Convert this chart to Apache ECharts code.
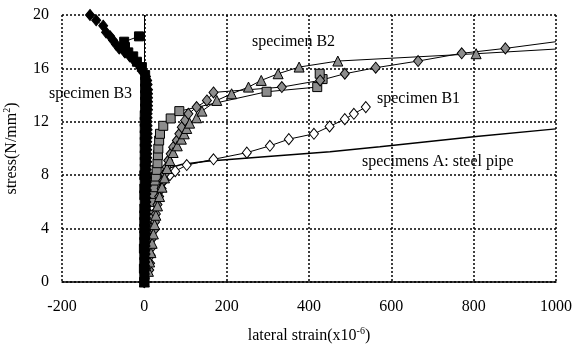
<!DOCTYPE html>
<html>
<head>
<meta charset="utf-8">
<script src="https://cdn.jsdelivr.net/npm/echarts@6/dist/echarts.min.js"></script>
<style>
  html, body { margin: 0; padding: 0; background: #fff; }
  #chart { width: 573px; height: 349px; }
</style>
</head>
<body>
<div id="chart"></div>
<script>
// lateral strain (x10^-6), stress (N/mm2)
const xTicks = [-200, 0, 200, 400, 600, 800, 1000];
const yTicks = [0, 4, 8, 12, 16, 20];

const steelPipeA = [
  [0, 0], [45, 8.4], [90, 8.8], [150, 9.05], [300, 9.4], [451, 9.75],
  [572, 10.13], [806, 10.9], [1000, 11.47]
];

const specimenB1 = [
  [0, 0], [4, 1], [8, 2], [12, 3], [16, 4], [20, 5], [26, 6], [34, 7],
  [48, 7.6], [62, 8.0], [75, 8.3], [103, 8.76], [168, 9.19], [249, 9.69],
  [305, 10.2], [351, 10.7], [412, 11.1], [450, 11.65], [487, 12.2],
  [509, 12.6], [538, 13.1]
];

const graySquares = [
  [0, 0], [2, 1], [4, 2], [6, 3], [9, 4], [12, 5], [16, 6], [20, 6.6],
  [22, 7.1], [25, 7.6], [28, 7.9], [30, 8.4], [32, 8.9], [33, 9.5],
  [34, 10.0], [36, 10.6], [38, 11.1], [46, 11.7], [64, 12.25], [85, 12.8],
  [297, 14.25], [420, 14.6], [433, 15.2], [426, 15.6]
];

const grayDiamonds = [
  [0, 0], [12, 0.9], [14, 1.4], [15.5, 2.0], [18, 2.6], [20, 3.3], [24, 3.9],
  [26, 4.5], [28, 5.1], [32, 5.8], [36, 6.4], [42, 7.0], [46, 7.6], [50, 8.1],
  [54, 8.6], [58, 9.1], [64, 9.6], [70, 10.1], [79, 10.6], [85, 11.1],
  [91, 11.6], [99, 12.1], [107, 12.6], [127, 13.1], [152, 13.6], [168, 14.2],
  [334, 14.6], [427, 15.1], [487, 15.6], [562, 16.05], [665, 16.55],
  [771, 17.13], [877, 17.5], [1000, 18.0]
];

const specimenB2 = [
  [0, 0], [10, 0.8], [13, 1.5], [16, 2.2], [19, 2.9], [22, 3.6], [25, 4.3],
  [28, 5.0], [32, 5.7], [37, 6.4], [43, 7.1], [49, 7.8], [55, 8.5], [62, 9.1],
  [70, 9.7], [80, 10.2], [90, 10.7], [97, 11.1], [103, 11.5], [110, 11.9],
  [127, 12.3], [140, 12.8], [176, 13.6], [212, 14.1], [253, 14.6],
  [284, 15.1], [325, 15.6], [376, 16.1], [470, 16.55], [806, 17.1],
  [1000, 17.45]
];

const blackSquares = [
  [0, 0], [0, 0.5], [-1, 1], [0, 1.5], [0, 2], [-1, 2.5], [0, 3], [0, 3.5],
  [0, 4], [0, 4.5], [0, 5], [0, 5.5], [1, 6], [0, 6.5], [0, 7], [1, 7.5],
  [0, 8], [1, 8.5], [1, 9], [1, 9.5], [1, 10], [1, 10.5], [1, 11], [1, 11.5],
  [1, 12], [1, 12.5], [2, 13], [2, 13.5], [2, 14], [2, 14.5], [2, 15],
  [2, 15.5], [-6, 16.1], [-18, 16.5], [-27, 16.9], [-39, 17.2], [-47, 17.6],
  [-49, 18.0], [-13, 18.4]
];

const specimenB3 = [
  [0, 0], [1, 0.3], [1, 0.6], [2, 0.9], [2, 1.2], [2, 1.5], [2, 1.8], [3, 2.1],
  [3, 2.4], [3, 2.7], [3, 3.0], [3, 3.3], [4, 3.6], [4, 3.9], [4, 4.2],
  [4, 4.5], [4, 4.8], [5, 5.1], [5, 5.4], [5, 5.7], [5, 6.0], [5, 6.3],
  [5, 6.6], [6, 6.9], [6, 7.2], [6, 7.5], [6, 7.8], [6, 8.1], [6, 8.4],
  [6, 8.7], [7, 9.0], [7, 9.3], [7, 9.6], [7, 9.9], [7, 10.2], [7, 10.5],
  [8, 10.8], [8, 11.1], [8, 11.4], [8, 11.7], [8, 12.0], [8, 12.3], [8, 12.6],
  [9, 12.9], [9, 13.2], [9, 13.5], [9, 13.8], [9, 14.1], [9, 14.4], [8, 14.8],
  [7, 15.1], [4, 15.4], [-3, 15.7], [-8, 16.0], [-15, 16.3], [-25, 16.6],
  [-35, 16.9], [-47, 17.2], [-61, 17.5], [-69, 17.8], [-76, 18.1], [-83, 18.4],
  [-93, 18.7], [-100, 19.2], [-117, 19.6], [-132, 20.0]
];

const FONT = '"Liberation Serif", "Times New Roman", serif';
const GRAY = '#8c8c8c';

// last point of a curve drawn as line only
const lineEnd = (pts) => pts.map((p, i) =>
  i === pts.length - 1 ? { value: p, symbol: 'none' } : p);

const markerSeries = (name, data, symbol, size, fill) => ({
  name: name,
  type: 'line',
  data: data,
  symbol: symbol,
  symbolSize: size,
  showAllSymbol: true,
  clip: true,
  lineStyle: { color: '#000', width: 1 },
  itemStyle: { color: fill, borderColor: '#000', borderWidth: 1 },
  emphasis: { disabled: true },
  animation: false,
});

const gridStyle = { color: '#000', width: 1.5, type: [2, 2] };

const chart = echarts.init(document.getElementById('chart'));

const option = {
  animation: false,
  grid: { left: 62, right: 17, top: 15, bottom: 67, containLabel: false, outerBoundsMode: 'none' },
  xAxis: {
    type: 'value',
    min: -200,
    max: 1000,
    interval: 200,
    name: 'lateral strain(x10{sup|-6})',
    nameLocation: 'middle',
    nameGap: 44,
    nameTextStyle: {
      color: '#000', fontFamily: FONT, fontSize: 16,
      rich: { sup: { fontSize: 10, fontFamily: FONT, color: '#000', padding: [0, 0, 10, 0] } },
    },
    axisLine: { show: true, onZero: false, lineStyle: { color: '#000', width: 1.5 } },
    axisTick: { show: false },
    axisLabel: {
      color: '#000', fontFamily: FONT, fontSize: 16, margin: 17,
      formatter: (v) => (xTicks.includes(v) ? String(v) : ''),
    },
    splitLine: { show: true, lineStyle: gridStyle },
  },
  yAxis: {
    type: 'value',
    min: 0,
    max: 20,
    interval: 4,
    name: 'stress(N/mm{sup|2})',
    nameLocation: 'middle',
    nameGap: 40,
    nameRotate: 90,
    nameTextStyle: {
      color: '#000', fontFamily: FONT, fontSize: 16,
      rich: { sup: { fontSize: 10, fontFamily: FONT, color: '#000', padding: [0, 0, 10, 0] } },
    },
    axisLine: { show: false },
    axisTick: { show: false },
    axisLabel: {
      color: '#000', fontFamily: FONT, fontSize: 16, margin: 13,
      formatter: (v) => (yTicks.includes(v) ? String(v) : ''),
    },
    splitLine: { show: true, lineStyle: gridStyle },
  },
  series: [
    {
      name: 'specimens A: steel pipe',
      type: 'line',
      data: steelPipeA,
      symbol: 'none',
      lineStyle: { color: '#000', width: 1.5 },
      emphasis: { disabled: true },
      markLine: {
        silent: true,
        symbol: 'none',
        label: { show: false },
        lineStyle: { color: '#000', width: 1, type: 'solid' },
        data: [{ xAxis: 0 }],
      },
    },
    markerSeries('specimen B1', specimenB1, 'diamond', [9, 11], '#fff'),
    markerSeries('gray squares', graySquares, 'rect', 9, GRAY),
    markerSeries('gray diamonds', lineEnd(grayDiamonds), 'diamond', [9, 11], GRAY),
    markerSeries('specimen B2', lineEnd(specimenB2), 'triangle', 10, GRAY),
    markerSeries('black squares', blackSquares, 'rect', 9, '#000'),
    markerSeries('specimen B3', specimenB3, 'diamond', [9, 11], '#000'),
  ],
  graphic: [
    { type: 'text', left: 252, top: 34, style: { text: 'specimen B2', font: '16px ' + FONT, fill: '#000' } },
    { type: 'text', left: 49, top: 86, style: { text: 'specimen B3', font: '16px ' + FONT, fill: '#000' } },
    { type: 'text', left: 377, top: 91, style: { text: 'specimen B1', font: '16px ' + FONT, fill: '#000' } },
    { type: 'text', left: 362, top: 154, style: { text: 'specimens A: steel pipe', font: '16px ' + FONT, fill: '#000' } },
  ],
};

chart.setOption(option);
</script>
</body>
</html>
